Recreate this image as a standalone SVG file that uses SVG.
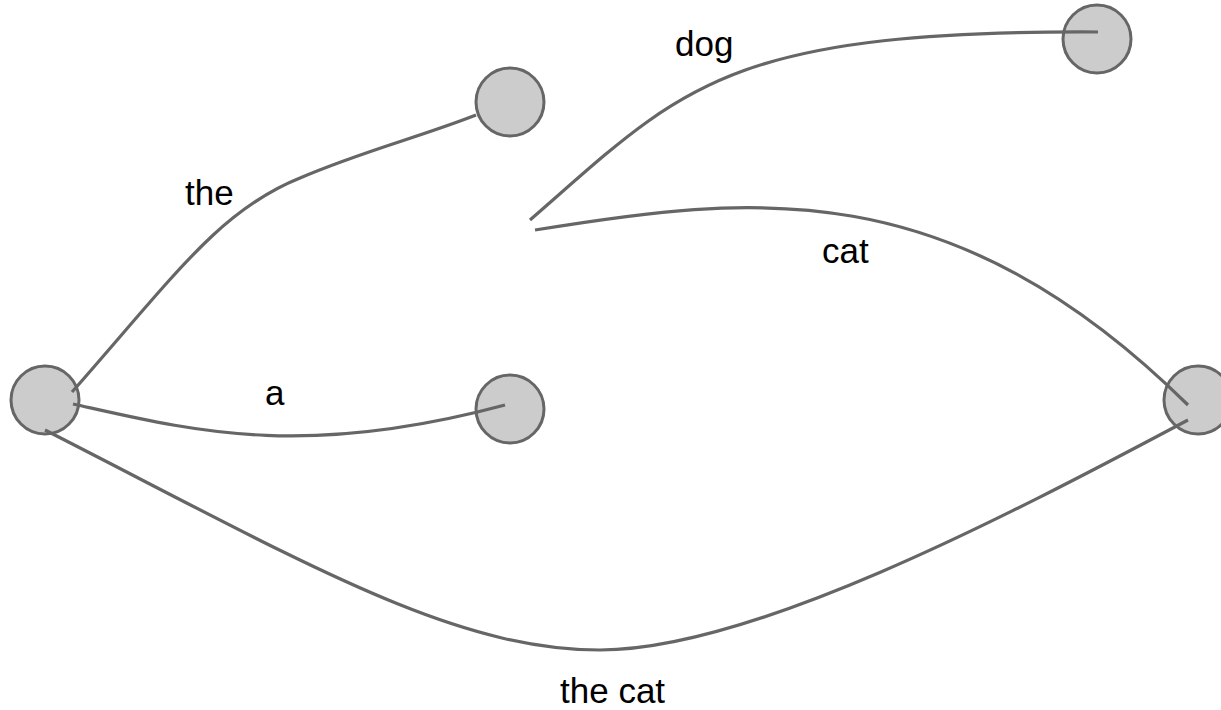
<svg xmlns="http://www.w3.org/2000/svg" width="1221" height="710" viewBox="0 0 1221 710">
<style>
.node{fill:#cccccc;stroke:#666666;stroke-width:3}
.edge{fill:none;stroke:#666666;stroke-width:3.2}
.lbl{font-family:"Liberation Sans",Arial,sans-serif;font-size:35px;fill:#000}
</style>
<rect width="1221" height="710" fill="#ffffff"/>
<g id="node-left"><circle class="node" cx="45" cy="400" r="34"/></g>
<g id="node-top"><circle class="node" cx="510" cy="102" r="34"/></g>
<g id="node-mid"><circle class="node" cx="510" cy="409" r="34"/></g>
<g id="node-topright"><circle class="node" cx="1097" cy="39" r="34"/></g>
<g id="node-right"><circle class="node" cx="1198" cy="400" r="34"/></g>
<g id="connectors">
<path class="edge" d="M72,392 C175,275 220,210 300,178 C360,152 420,137 476,115"/>
<path class="edge" d="M73,404 C190,430 300,460 505,405"/>
<path class="edge" d="M530,220 C680,90 720,30 1098,32"/>
<path class="edge" d="M535,230 C750,195 950,170 1188,405"/>
<path class="edge" d="M45,430 C300,560 450,650 600,650 C750,650 1000,520 1188,420"/>
</g>
<g id="labels">
<text class="lbl" x="185" y="205">the</text>
<text class="lbl" x="265" y="405">a</text>
<text class="lbl" x="675" y="56">dog</text>
<text class="lbl" x="822" y="263">cat</text>
<text class="lbl" x="560" y="703">the cat</text>
</g>
</svg>
